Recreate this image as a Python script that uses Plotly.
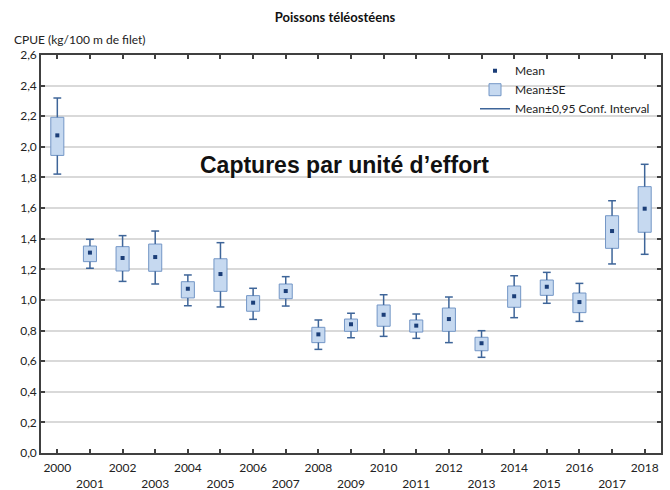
import plotly.graph_objects as go

# Catch per unit of effort, teleost fish (kg / 100 m of net)
years = list(range(2000, 2019))
mean = [2.075, 1.309, 1.274, 1.280, 1.073, 1.169, 0.982, 1.058, 0.775, 0.841,
        0.903, 0.832, 0.875, 0.717, 1.024, 1.086, 0.986, 1.450, 1.596]
se_hi = [2.193, 1.352, 1.348, 1.365, 1.119, 1.269, 1.028, 1.104, 0.821, 0.875,
         0.967, 0.869, 0.947, 0.756, 1.091, 1.130, 1.045, 1.550, 1.740]
se_lo = [1.944, 1.250, 1.189, 1.187, 1.013, 1.056, 0.926, 1.008, 0.721, 0.795,
         0.828, 0.790, 0.795, 0.668, 0.952, 1.030, 0.917, 1.337, 1.442]
ci_hi = [2.319, 1.396, 1.420, 1.450, 1.163, 1.374, 1.076, 1.152, 0.869, 0.913,
         1.034, 0.908, 1.019, 0.799, 1.158, 1.180, 1.108, 1.648, 1.886]
ci_lo = [1.822, 1.207, 1.121, 1.104, 0.962, 0.954, 0.873, 0.960, 0.677, 0.753,
         0.762, 0.749, 0.721, 0.625, 0.884, 0.978, 0.860, 1.235, 1.298]

# odd years go on a second label row
tick_text = [str(y) if y % 2 == 0 else "<br>" + str(y) for y in years]
y_ticks = [round(0.2 * i, 1) for i in range(14)]

MEAN_C = "#1b3e78"
BOX_FILL = "#c6d9f0"
BOX_LINE = "#7396c6"
WHISK = "#3e6599"
AXIS_C = "#404040"
GRID_C = "#d9d9d9"
FONT = "Lato"

BOX_W = 0.4
CAP_HALF = 0.12

# whisker stems (box edge -> CI bound) and caps, separated by None
wx, wy = [], []
for yr, sh, sl, ch, cl in zip(years, se_hi, se_lo, ci_hi, ci_lo):
    wx += [yr, yr, None, yr - CAP_HALF, yr + CAP_HALF, None,
           yr, yr, None, yr - CAP_HALF, yr + CAP_HALF, None]
    wy += [sh, ch, None, ch, ch, None,
           sl, cl, None, cl, cl, None]

fig = go.Figure()
fig.add_trace(go.Scatter(
    x=years, y=mean, mode="markers", name="Mean",
    marker=dict(symbol="square", size=4, color=MEAN_C),
))
fig.add_trace(go.Bar(
    x=years, y=[h - l for h, l in zip(se_hi, se_lo)], base=se_lo,
    width=BOX_W, name="Mean±SE",
    marker=dict(color=BOX_FILL, line=dict(color=BOX_LINE, width=1)),
))
fig.add_trace(go.Scatter(
    x=wx, y=wy, mode="lines", name="Mean±0,95 Conf. Interval",
    line=dict(color=WHISK, width=1.5),
))

fig.update_layout(
    width=670, height=490,
    margin=dict(l=41, r=9, t=55, b=37),
    paper_bgcolor="white", plot_bgcolor="white",
    separators=", ",
    font=dict(family=FONT, size=12, color="#222222"),
    title=dict(text="Poissons téléostéens", x=0.5, xref="container",
               y=1 - 17 / 490, yref="container", xanchor="center", yanchor="middle",
               font=dict(family=FONT, size=13, color="#111111", weight=700)),
    showlegend=True,
    legend=dict(x=0.70, y=0.997, xanchor="left", yanchor="top",
                bgcolor="rgba(0,0,0,0)", font=dict(family=FONT, size=12, color="#222222"),
                tracegroupgap=0, itemwidth=30),
    xaxis=dict(range=[1999.5, 2018.5], tickvals=years, ticktext=tick_text,
               ticks="inside", ticklen=4, tickcolor=AXIS_C, tickwidth=1.5,
               showline=True, linecolor=AXIS_C, linewidth=1.5, mirror="ticks",
               showgrid=False, zeroline=False, ticklabelstandoff=3, automargin=False,
               tickfont=dict(family=FONT, size=12, color="#222222")),
    yaxis=dict(range=[0, 2.6], tickvals=y_ticks, tickformat=".1f",
               ticks="inside", ticklen=4, tickcolor=AXIS_C, tickwidth=1.5,
               showline=True, linecolor=AXIS_C, linewidth=1.5, mirror="ticks",
               showgrid=True, gridcolor=GRID_C, gridwidth=1.5, zeroline=False,
               automargin=False,
               tickfont=dict(family=FONT, size=12, color="#222222")),
    annotations=[
        dict(text="CPUE (kg/100 m de filet)", xref="paper", yref="paper",
             x=-0.046, y=1.038, xanchor="left", yanchor="middle", showarrow=False,
             font=dict(family=FONT, size=12, color="#222222")),
        dict(text="Captures par unité d’effort", xref="paper", yref="paper",
             x=0.49, y=0.7236, xanchor="center", yanchor="middle", showarrow=False,
             font=dict(family="Liberation Sans", size=23, color="#111111", weight=700)),
    ],
)

fig.write_html("out.html")
